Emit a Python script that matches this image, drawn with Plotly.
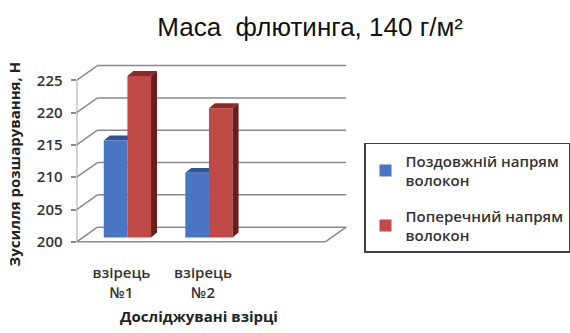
import plotly.graph_objects as go

# --- data ---
samples = ["взірець<br>№1", "взірець<br>№2"]
series_names = ["Поздовжній напрям<br>волокон", "Поперечний напрям<br>волокон"]
longitudinal = [215, 210]
transverse = [225, 220]
y_ticks = [200, 205, 210, 215, 220, 225]

BASE = 200
COLORS = {
    "front": ["#4A74C4", "#BF4A47"],
    "top": ["#2F5597", "#8C2A27"],
    "side": ["#23447D", "#6A1E1C"],
}

# perspective geometry (data units)
XMIN, XFRONT = -0.55, 2.5          # floor front edge
DXW, DYW = 0.256, 2.27             # wall depth offset
SX, SY = 0.073, 0.68               # bar front plane offset from the axis plane
BDX, BDY = 0.073, 0.76             # bar depth
W = 0.29                            # bar width
GRID = "#8A8A8A"
TXT = "#333333"

x_idx = list(range(len(samples)))
fig = go.Figure()

series = [longitudinal, transverse]
offsets = [-W + SX, SX]
for k, vals in enumerate(series):
    fig.add_trace(go.Bar(
        x=x_idx,
        y=[v - BASE for v in vals],
        base=BASE + SY,
        offset=offsets[k],
        width=W,
        name=series_names[k],
        legendgroup=str(k),
        marker=dict(color=COLORS["front"][k], line=dict(width=0)),
    ))

shapes = []

# walls and floor
for t in y_ticks:
    shapes.append(dict(type="line", xref="x", yref="y", x0=XMIN, y0=t,
                       x1=XMIN + DXW, y1=t + DYW, layer="below",
                       line=dict(color=GRID, width=1.5)))
    shapes.append(dict(type="line", xref="x", yref="y", x0=XMIN + DXW, y0=t + DYW,
                       x1=XFRONT + DXW, y1=t + DYW, layer="below",
                       line=dict(color=GRID, width=1.5)))
shapes.append(dict(type="line", xref="x", yref="y", x0=XMIN, y0=BASE,
                   x1=XFRONT, y1=BASE, layer="below", line=dict(color=GRID, width=1.5)))
shapes.append(dict(type="line", xref="x", yref="y", x0=XFRONT, y0=BASE,
                   x1=XFRONT + DXW, y1=BASE + DYW, layer="below",
                   line=dict(color=GRID, width=1.5)))
shapes.append(dict(type="line", xref="x", yref="y", x0=XMIN, y0=BASE,
                   x1=XMIN, y1=y_ticks[-1], layer="below",
                   line=dict(color=GRID, width=1.5)))

# 3D faces of the bars
for k, vals in enumerate(series):
    layer = "between" if k == 0 else "above"
    for i, v in zip(x_idx, vals):
        xl = i + offsets[k]
        xr = xl + W
        top = v + SY
        b = BASE + SY
        shapes.append(dict(
            type="path", xref="x", yref="y", layer=layer,
            path=f"M{xl},{top} L{xr},{top} L{xr + BDX},{top + BDY} L{xl + BDX},{top + BDY} Z",
            fillcolor=COLORS["top"][k], line=dict(width=0)))
        if k == 1:
            shapes.append(dict(
                type="path", xref="x", yref="y", layer=layer,
                path=f"M{xr},{b} L{xr},{top} L{xr + BDX},{top + BDY} L{xr + BDX},{b + BDY} Z",
                fillcolor=COLORS["side"][k], line=dict(width=0)))

fig.update_layout(
    width=570, height=333,
    margin=dict(l=0, r=0, t=0, b=0),
    paper_bgcolor="white", plot_bgcolor="rgba(0,0,0,0)",
    barmode="overlay",
    shapes=shapes,
    title=dict(text="Маса\u00a0 флютинга, 140 г/м²", x=0.544, xanchor="center",
               y=0.918, yanchor="middle",
               font=dict(family="Liberation Sans", size=26, color="#111111")),
    xaxis=dict(range=[XMIN, XFRONT + DXW + 0.014], domain=[77 / 570, 349.2 / 570],
               showgrid=False, zeroline=False, showline=False,
               tickvals=x_idx, ticktext=samples, ticks="",
               ticklabelstandoff=18,
               tickfont=dict(family="Open Sans", size=15, color=TXT, weight=600)),
    yaxis=dict(range=[199.6, 227.6], domain=[0.2503, 0.8053],
               showgrid=False, zeroline=False, showline=False,
               tickvals=y_ticks, ticks="outside", ticklen=5, tickcolor=GRID,
               tickwidth=1.5, ticklabelstandoff=5,
               tickfont=dict(family="Open Sans", size=15, color=TXT, weight=600)),
    legend=dict(x=366 / 570, y=(333 - 146) / 333, xanchor="left", yanchor="top",
                bordercolor="#404040", borderwidth=1.5, bgcolor="white",
                tracegroupgap=13, traceorder="grouped", itemwidth=30,
                font=dict(family="Open Sans", size=15, color=TXT, weight=600)),
    annotations=[
        dict(text="<b>Зусилля розшарування, Н</b>", textangle=-90,
             xref="paper", yref="paper", x=15 / 570, y=(333 - 167) / 333,
             showarrow=False, xanchor="center", yanchor="middle",
             font=dict(family="Open Sans", size=15, color="#222222")),
        dict(text="<b>Досліджувані взірці</b>",
             xref="paper", yref="paper", x=200 / 570, y=(333 - 323) / 333,
             showarrow=False, xanchor="center", yanchor="middle",
             font=dict(family="Open Sans", size=15, color="#222222")),
    ],
)

fig.write_html("out.html")
